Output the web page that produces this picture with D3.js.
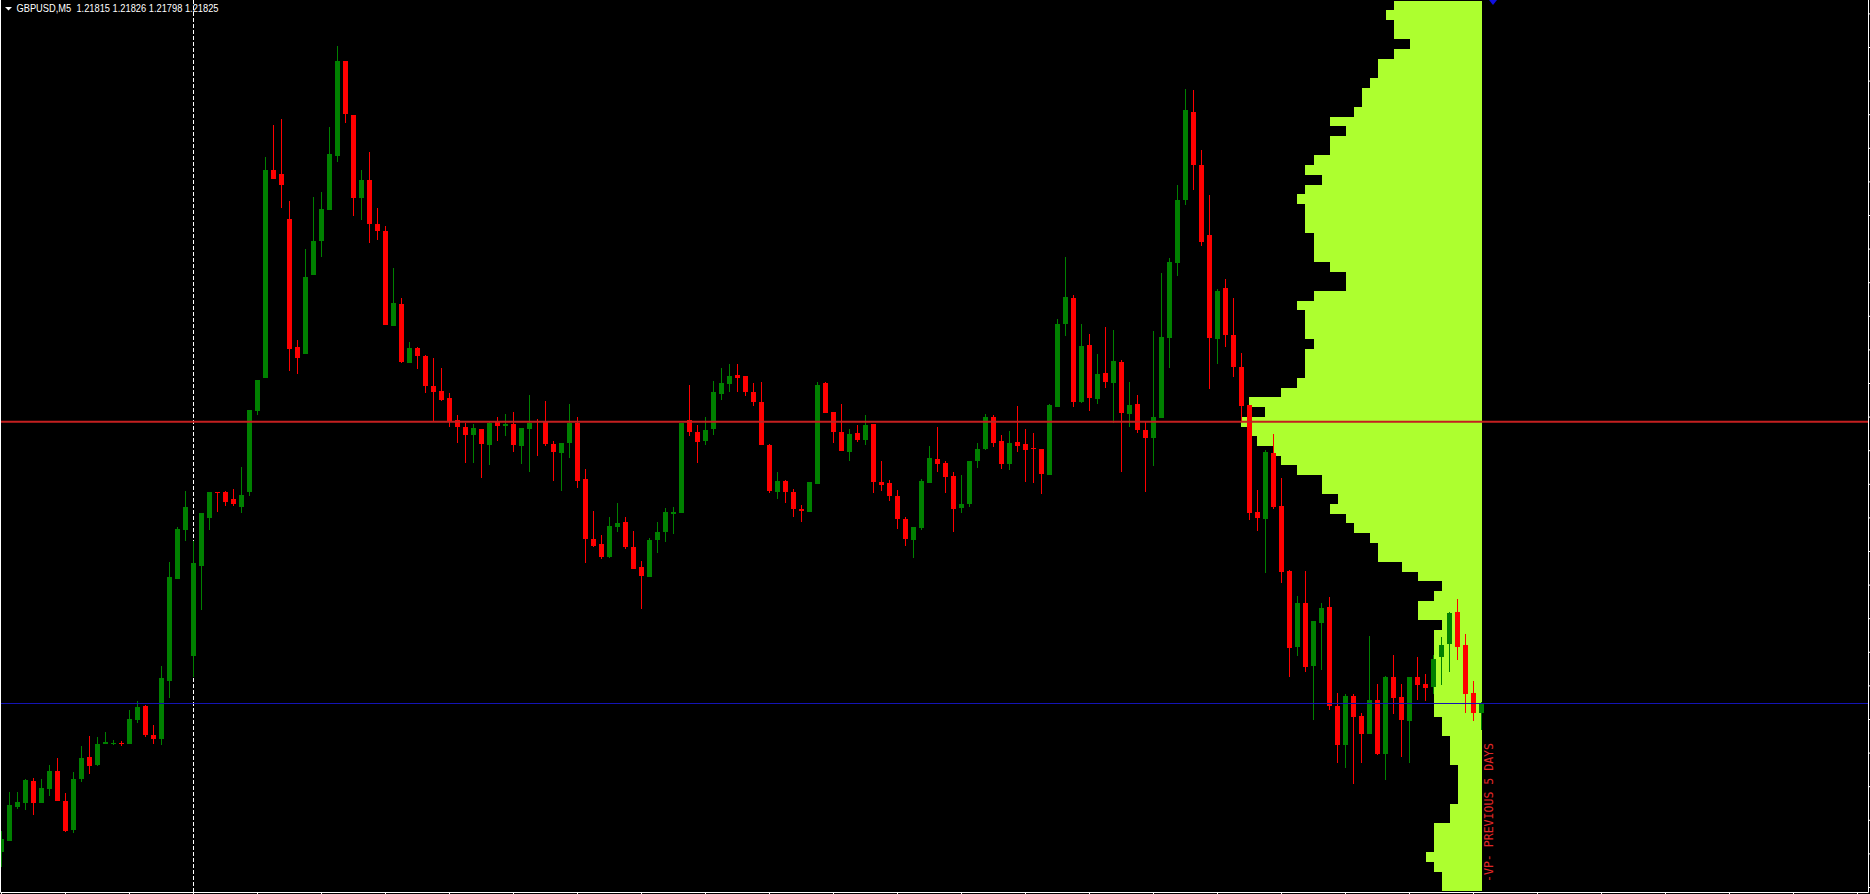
<!DOCTYPE html>
<html><head><meta charset="utf-8">
<script src="https://cdn.jsdelivr.net/npm/d3@7"></script>
<style>
html,body{margin:0;padding:0;background:#000;overflow:hidden;}
svg{display:block;}
</style></head><body>
<svg id="chart" width="1870" height="894"></svg>
<script>
// ---------------- data ----------------
const symbolTitle = "GBPUSD,M5";
const titleValues = ["1.21815", "1.21826", "1.21798", "1.21825"];

const opens = [
1.21676,1.21687,1.21721,1.21725,1.21747,1.21725,1.21739,1.21757,1.21727,1.21698,
1.21749,1.21771,1.21763,1.21784,1.21784,1.21785,1.21784,1.21808,1.21822,1.21793,
1.21789,1.21847,1.21949,1.21998,1.21872,1.21962,1.22010,1.22036,1.22036,1.22029,
1.22021,1.22036,1.22117,1.22150,1.22358,1.22354,1.22309,1.22181,1.22174,1.22253,
1.22287,1.22318,1.22372,1.22467,1.22413,1.22330,1.22348,1.22304,1.22297,1.22202,
1.22224,1.22165,1.22180,1.22172,1.22142,1.22137,1.22130,1.22108,1.22101,1.22093,
1.22099,1.22083,1.22106,1.22102,1.22104,1.22082,1.22099,1.22107,1.22106,1.22084,
1.22075,1.22085,1.22105,1.22049,1.21989,1.21984,1.21971,1.22001,1.22006,1.21981,
1.21961,1.21951,1.21988,1.21996,1.22014,1.22015,1.22108,1.22096,1.22087,1.22099,
1.22134,1.22144,1.22153,1.22152,1.22136,1.22126,1.22083,1.22036,1.22047,1.22036,
1.22019,1.22016,1.22044,1.22145,1.22116,1.22096,1.22076,1.22095,1.22088,1.22104,
1.22046,1.22045,1.22032,1.22009,1.21988,1.22000,1.22045,1.22069,1.22065,1.22052,
1.22020,1.22024,1.22067,1.22079,1.22111,1.22087,1.22064,1.22086,1.22084,1.22080,
1.22079,1.22053,1.22121,1.22204,1.22230,1.22126,1.22183,1.22129,1.22155,1.22145,
1.22166,1.22114,1.22124,1.22098,1.22090,1.22110,1.22190,1.22265,1.22328,1.22416,
1.22363,1.22293,1.22189,1.22240,1.22193,1.22161,1.22123,1.22016,1.22009,1.22075,
1.22022,1.21957,1.21881,1.21925,1.21862,1.21905,1.21921,1.21822,1.21783,1.21832,
1.21812,1.21794,1.21828,1.21774,1.21851,1.21831,1.21807,1.21851,1.21844,1.21841,
1.21871,1.21884,1.21916,1.21883,1.21835,1.21815];

const highs = [
1.21697,1.21736,1.21736,1.21749,1.21750,1.21749,1.21763,1.21770,1.21735,1.21756,
1.21782,1.21792,1.21791,1.21796,1.21788,1.21787,1.21818,1.21827,1.21823,1.21803,
1.21862,1.21966,1.22001,1.22037,1.21987,1.22015,1.22036,1.22036,1.22037,1.22039,
1.22061,1.22118,1.22148,1.22371,1.22403,1.22409,1.22327,1.22188,1.22279,1.22331,
1.22336,1.22401,1.22482,1.22467,1.22413,1.22358,1.22376,1.22320,1.22302,1.22260,
1.22230,1.22186,1.22181,1.22173,1.22170,1.22160,1.22135,1.22113,1.22105,1.22104,
1.22099,1.22107,1.22111,1.22114,1.22116,1.22100,1.22133,1.22109,1.22127,1.22087,
1.22085,1.22124,1.22111,1.22059,1.22017,1.21993,1.22011,1.22025,1.22011,1.21997,
1.21967,1.21990,1.22006,1.22020,1.22021,1.22105,1.22143,1.22103,1.22111,1.22147,
1.22160,1.22164,1.22164,1.22152,1.22145,1.22146,1.22084,1.22056,1.22048,1.22039,
1.22023,1.22046,1.22146,1.22146,1.22116,1.22124,1.22099,1.22103,1.22113,1.22104,
1.22067,1.22048,1.22038,1.22011,1.22001,1.22049,1.22082,1.22101,1.22067,1.22056,
1.22053,1.22067,1.22085,1.22114,1.22113,1.22093,1.22097,1.22122,1.22099,1.22095,
1.22079,1.22124,1.22209,1.22271,1.22233,1.22204,1.22194,1.22174,1.22201,1.22198,
1.22168,1.22146,1.22133,1.22106,1.22197,1.22255,1.22270,1.22343,1.22439,1.22438,
1.22378,1.22333,1.22239,1.22249,1.22230,1.22175,1.22123,1.22038,1.22078,1.22094,
1.22050,1.21958,1.21932,1.21957,1.21907,1.21925,1.21931,1.21835,1.21834,1.21834,
1.21815,1.21892,1.21844,1.21852,1.21873,1.21844,1.21851,1.21871,1.21854,1.21873,
1.21891,1.21916,1.21929,1.21894,1.21847,1.21826];

const lows = [
1.21661,1.21687,1.21719,1.21718,1.21713,1.21725,1.21732,1.21727,1.21696,1.21695,
1.21746,1.21754,1.21762,1.21784,1.21783,1.21782,1.21784,1.21805,1.21791,1.21784,
1.21783,1.21830,1.21949,1.21987,1.21851,1.21918,1.21998,1.22016,1.22022,1.22022,
1.22015,1.22032,1.22113,1.22150,1.22349,1.22320,1.22157,1.22154,1.22174,1.22253,
1.22271,1.22318,1.22366,1.22405,1.22312,1.22308,1.22285,1.22288,1.22203,1.22202,
1.22165,1.22165,1.22159,1.22135,1.22107,1.22127,1.22101,1.22085,1.22065,1.22065,
1.22050,1.22063,1.22087,1.22092,1.22076,1.22064,1.22056,1.22072,1.22082,1.22047,
1.22037,1.22070,1.22040,1.21965,1.21981,1.21969,1.21970,1.21996,1.21979,1.21959,
1.21919,1.21951,1.21975,1.21986,1.21994,1.22015,1.22092,1.22065,1.22083,1.22093,
1.22128,1.22136,1.22136,1.22132,1.22122,1.22083,1.22035,1.22029,1.22025,1.22011,
1.22006,1.22016,1.22044,1.22115,1.22085,1.22077,1.22067,1.22086,1.22083,1.22035,
1.22037,1.22027,1.21999,1.21982,1.21970,1.21998,1.22045,1.22056,1.22035,1.21996,
1.22015,1.22021,1.22060,1.22078,1.22081,1.22059,1.22058,1.22076,1.22046,1.22045,
1.22034,1.22053,1.22121,1.22192,1.22121,1.22125,1.22117,1.22124,1.22140,1.22105,
1.22056,1.22101,1.22095,1.22036,1.22062,1.22110,1.22160,1.22252,1.22323,1.22338,
1.22282,1.22139,1.22164,1.22181,1.22151,1.22106,1.22008,1.21997,1.21955,1.22019,
1.21945,1.21851,1.21872,1.21856,1.21808,1.21858,1.21818,1.21765,1.21760,1.21744,
1.21765,1.21794,1.21773,1.21748,1.21814,1.21771,1.21765,1.21828,1.21827,1.21834,
1.21843,1.21856,1.21868,1.21815,1.21807,1.21798];

const closes = [
1.21689,1.21723,1.21726,1.21748,1.21725,1.21740,1.21757,1.21727,1.21697,1.21749,
1.21770,1.21762,1.21784,1.21786,1.21785,1.21784,1.21809,1.21821,1.21793,1.21789,
1.21850,1.21951,1.21999,1.22021,1.21965,1.22015,1.22036,1.22035,1.22026,1.22024,
1.22033,1.22118,1.22148,1.22358,1.22349,1.22343,1.22179,1.22170,1.22251,1.22287,
1.22319,1.22374,1.22467,1.22414,1.22330,1.22348,1.22304,1.22297,1.22203,1.22225,
1.22166,1.22180,1.22172,1.22142,1.22136,1.22128,1.22107,1.22101,1.22093,1.22100,
1.22084,1.22105,1.22102,1.22104,1.22083,1.22100,1.22105,1.22106,1.22084,1.22076,
1.22085,1.22105,1.22047,1.21989,1.21982,1.21971,1.22002,1.22005,1.21981,1.21959,
1.21952,1.21988,1.21996,1.22016,1.22016,1.22105,1.22096,1.22086,1.22098,1.22136,
1.22145,1.22152,1.22150,1.22136,1.22126,1.22083,1.22037,1.22047,1.22036,1.22019,
1.22017,1.22046,1.22143,1.22115,1.22096,1.22077,1.22094,1.22088,1.22103,1.22046,
1.22043,1.22032,1.22009,1.21989,1.22001,1.22047,1.22070,1.22064,1.22051,1.22019,
1.22024,1.22067,1.22079,1.22111,1.22085,1.22064,1.22085,1.22082,1.22078,1.22079,
1.22054,1.22123,1.22204,1.22231,1.22126,1.22182,1.22130,1.22154,1.22146,1.22167,
1.22115,1.22123,1.22098,1.22090,1.22111,1.22191,1.22266,1.22328,1.22418,1.22363,
1.22286,1.22190,1.22237,1.22193,1.22161,1.22122,1.22015,1.22010,1.22076,1.22021,
1.21956,1.21880,1.21925,1.21861,1.21907,1.21920,1.21822,1.21783,1.21832,1.21811,
1.21794,1.21828,1.21774,1.21851,1.21830,1.21808,1.21851,1.21843,1.21840,1.21869,
1.21883,1.21915,1.21881,1.21834,1.21815,1.21825];

// day separator (bar index)
const separatorIndex = 24;

// volume profile of the previous 5 days: bins from the top price downwards
const profileHigh = 1.2252738;
const profileStep = 0.0000968;
const profileVolumes = [
11,12,11,11,9,11,13,13,14,15,
15,16,19,17,19,19,21,22,20,22,
23,22,22,22,21,21,21,19,17,17,
21,23,22,22,22,21,22,22,22,23,
25,29,27,30,29,28,26,25,23,20,
20,18,19,17,16,14,13,13,10,8,
5,6,8,8,5,6,6,6,6,6,
6,6,6,6,5,5,4,4,4,3,
3,3,3,4,4,6,6,6,7,6,
5,5];
const profileLabel = "-VP- PREVIOUS 5 DAYS";

const bidPrice = 1.21825;
const priceTicks = [1.21641,1.216746,1.217082,1.217418,1.217754,1.21809,1.218426,1.218762,
1.219098,1.219434,1.21977,1.220106,1.220442,1.220778,1.221114,1.22145,1.221786,1.222122,
1.222458,1.222794,1.22313,1.223466,1.223802,1.224138,1.224474,1.22481,1.225146];

// ---------------- drawing ----------------
const W = 1870, H = 894;
const plotBottom = 892, plotRight = 1868;
const BULL = "#008000", BEAR = "#ff0000", PROFILE = "#adff2f";

const svg = d3.select("#chart");
svg.append("rect").attr("width", W).attr("height", H).attr("fill", "#000");

const n = opens.length;
const x = d3.scaleLinear().domain([0, n - 1]).range([1.5, 1.5 + 8 * (n - 1)]);
const y = d3.scaleLinear().domain([1.22528, 1.21636]).range([0, plotBottom]);
const vol = d3.scaleLinear().domain([0, 30]).range([0, 240.7]);

// volume profile (behind candles)
const profRight = x(n - 1) + 0.5;
const gProf = svg.append("g").attr("shape-rendering", "crispEdges");
gProf.selectAll("rect").data(profileVolumes).join("rect")
  .attr("x", d => profRight - vol(d))
  .attr("width", d => vol(d))
  .attr("y", (d, i) => Math.round(y(profileHigh - i * profileStep)))
  .attr("height", (d, i) => Math.round(y(profileHigh - (i + 1) * profileStep)) - Math.round(y(profileHigh - i * profileStep)))
  .attr("fill", PROFILE);

// day separator
svg.append("line")
  .attr("x1", x(separatorIndex)).attr("x2", x(separatorIndex))
  .attr("y1", 0).attr("y2", plotBottom)
  .attr("stroke", "#fff").attr("stroke-width", 1).attr("stroke-dasharray", "4,2");

// candles
const candles = d3.range(n).map(i => ({ i, o: opens[i], h: highs[i], l: lows[i], c: closes[i] }));
const gC = svg.append("g").attr("shape-rendering", "crispEdges");
gC.selectAll(".wick").data(candles).join("rect").attr("class", "wick")
  .attr("x", d => x(d.i) - 0.5).attr("width", 1)
  .attr("y", d => Math.round(y(d.h)))
  .attr("height", d => Math.max(1, Math.round(y(d.l)) - Math.round(y(d.h))))
  .attr("fill", d => d.c >= d.o ? BULL : BEAR);
gC.selectAll(".body").data(candles).join("rect").attr("class", "body")
  .attr("x", d => x(d.i) - 2.5).attr("width", 5)
  .attr("y", d => Math.round(y(Math.max(d.o, d.c))))
  .attr("height", d => Math.max(1, Math.round(y(Math.min(d.o, d.c))) - Math.round(y(Math.max(d.o, d.c)))))
  .attr("fill", d => d.c >= d.o ? BULL : BEAR);

// POC line
const pocIdx = d3.maxIndex(profileVolumes);
const pocPrice = profileHigh - (pocIdx + 0.5) * profileStep;
svg.append("line")
  .attr("x1", 0).attr("x2", plotRight)
  .attr("y1", y(pocPrice)).attr("y2", y(pocPrice))
  .attr("stroke", "#c42020").attr("stroke-width", 2);

// bid line
svg.append("line")
  .attr("x1", 0).attr("x2", plotRight)
  .attr("y1", Math.round(y(bidPrice)) + 0.5).attr("y2", Math.round(y(bidPrice)) + 0.5)
  .attr("stroke", "#1414b4").attr("stroke-width", 1);

// axes (time ticks at bottom, price ticks at right, labels are off-screen in the original)
const gx = svg.append("g").attr("transform", `translate(0,${plotBottom + 0.5})`)
  .call(d3.axisBottom(x).tickValues(d3.range(0, 240, 8)).tickSize(3).tickSizeOuter(0).tickFormat("").offset(0));
gx.select(".domain").remove();
gx.selectAll("line").attr("stroke", "#fff");
const gy = svg.append("g").attr("transform", `translate(${plotRight + 0.5},0)`)
  .call(d3.axisRight(y).tickValues(priceTicks).tickSize(4).tickSizeOuter(0).tickFormat(""));
gy.select(".domain").remove();
gy.selectAll("line").attr("stroke", "#fff");

// frame
svg.append("path")
  .attr("d", `M0.5,0 V${plotBottom + 0.5} H${plotRight + 0.5} V0`)
  .attr("fill", "none").attr("stroke", "#fff").attr("stroke-width", 1);

// chart-shift marker
const mx = x(n - 1) + 11.5;
svg.append("path").attr("d", `M${mx - 4},0 L${mx + 4},0 L${mx},5 Z`).attr("fill", "#1010e0");

// title
svg.append("path").attr("d", "M5,7 L12,7 L8.5,10.5 Z").attr("fill", "#fff");
svg.append("text")
  .attr("x", 16.5).attr("y", 11.5)
  .attr("fill", "#fff")
  .attr("font-family", "Liberation Sans, Arial, sans-serif")
  .attr("font-size", 10.5)
  .attr("textLength", 202).attr("lengthAdjust", "spacingAndGlyphs")
  .style("white-space", "pre")
  .text(symbolTitle + "  " + titleValues.join(" "));

// profile label (vertical)
svg.append("text")
  .attr("transform", `translate(${x(n - 1) + 11.5},882) rotate(-90)`)
  .attr("fill", "#e02828")
  .attr("font-family", "DejaVu Sans Mono, monospace")
  .attr("font-size", 13)
  .attr("textLength", 139).attr("lengthAdjust", "spacingAndGlyphs")
  .text(profileLabel);
</script>
</body></html>
